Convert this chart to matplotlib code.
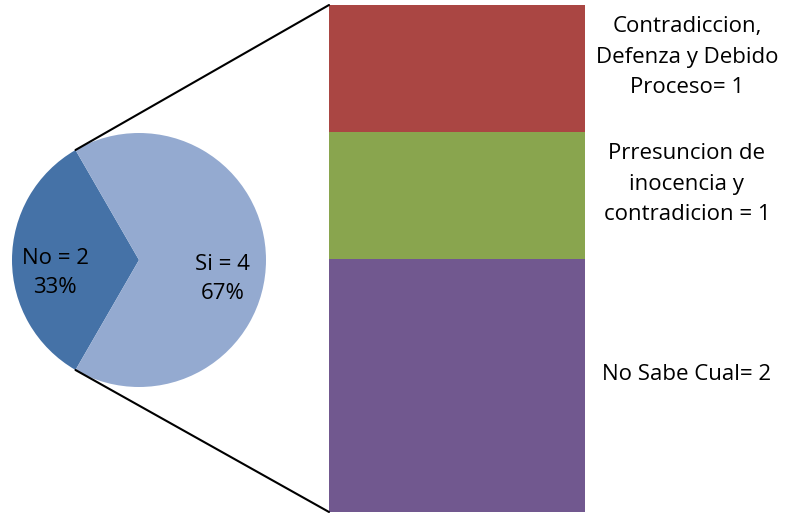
import matplotlib

matplotlib.use("Agg")

import matplotlib.pyplot as plt
import numpy as np
from matplotlib.patches import ConnectionPatch

# pie data
pie_labels = ["No", "Si"]
pie_values = [2, 4]
pie_colors = ["#4572A7", "#94AAD0"]

# breakdown of "Si" (bottom -> top in the stacked bar)
bar_labels = ["No Sabe Cual= 2", "Prresuncion de\ninocencia y\ncontradicion = 1",
              "Contradiccion,\nDefenza y Debido\nProceso= 1"]
bar_values = [2, 1, 1]
bar_colors = ["#71588F", "#89A54E", "#AA4643"]

plt.rcParams["font.family"] = ["Open Sans", "DejaVu Sans"]
FS = 16
LS = 1.6

W, H = 796, 514
fig = plt.figure(figsize=(W / 100, H / 100), dpi=100)

# pie axes: centre (139, 260) px, radius 127 px, limits +/-1.1
cx, cy, r = 139, 260, 127
half = r * 1.1
ax_pie = fig.add_axes([(cx - half) / W, (H - cy - half) / H, 2 * half / W, 2 * half / H])
total = sum(pie_values)
texts = [f"{lab} = {v}\n{v / total * 100:.0f}%" for lab, v in zip(pie_labels, pie_values)]
start = 180 - 360 * pie_values[0] / total / 2
wedges, ltexts = ax_pie.pie(pie_values, labels=texts, colors=pie_colors, startangle=start,
                            labeldistance=0.66, wedgeprops={"linewidth": 0},
                            textprops={"fontsize": FS, "linespacing": 1.5})
for t, dy in zip(ltexts, [0.1, 0.15]):
    t.set_ha("center")
    x, y = t.get_position()
    t.set_position((x, y - dy))
ax_pie.set_xlim(-1.1, 1.1)
ax_pie.set_ylim(-1.1, 1.1)
ax_pie.axis("off")

# stacked bar axes
bx0, bx1, by0, by1 = 329, 585, 5, 512
ax_bar = fig.add_axes([bx0 / W, (H - by1) / H, (bx1 - bx0) / W, (by1 - by0) / H])
bottoms = np.concatenate([[0], np.cumsum(bar_values)[:-1]])
ax_bar.bar(0, bar_values, bottom=bottoms, width=1, color=bar_colors, align="edge", linewidth=0)
ax_bar.set_xlim(0, 1)
ax_bar.set_ylim(0, sum(bar_values))
ax_bar.axis("off")
for lab, b, v in zip(bar_labels, bottoms, bar_values):
    ax_bar.annotate(lab, (1.398, b + v / 2), xycoords="data", xytext=(0, 8),
                    textcoords="offset points", ha="center", va="center",
                    fontsize=FS, linespacing=LS, annotation_clip=False)

# connector lines from the "No" wedge edges to the bar corners
a0 = np.deg2rad(wedges[0].theta1)
a1 = np.deg2rad(wedges[0].theta2)
for ang, yb in [(a0, sum(bar_values)), (a1, 0)]:
    con = ConnectionPatch(xyA=(np.cos(ang), np.sin(ang)), coordsA=ax_pie.transData,
                          xyB=(0, yb), coordsB=ax_bar.transData, color="black", lw=1.5)
    fig.add_artist(con)

fig.savefig("out.png", dpi=100)
